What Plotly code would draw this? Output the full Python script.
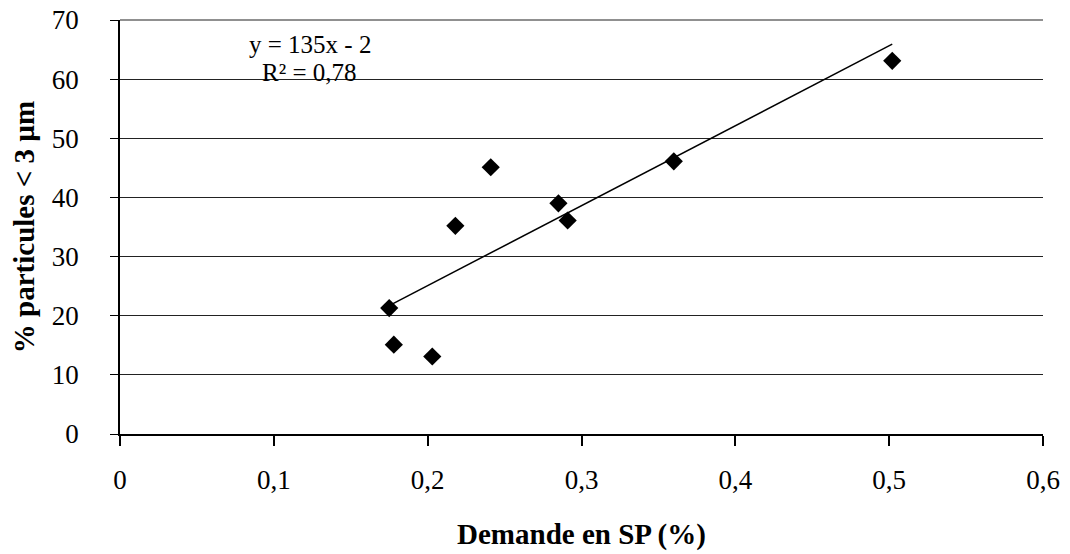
import numpy as np
import plotly.graph_objects as go

# Data
demande_sp = [0.175, 0.178, 0.203, 0.218, 0.241, 0.285, 0.291, 0.360, 0.502]
pct_particules = [21.3, 15.1, 13.1, 35.2, 45.1, 39.0, 36.1, 46.1, 63.1]
x_ticks = [0, 0.1, 0.2, 0.3, 0.4, 0.5, 0.6]
x_tick_labels = ["0", "0,1", "0,2", "0,3", "0,4", "0,5", "0,6"]
y_ticks = [0, 10, 20, 30, 40, 50, 60, 70]

# Linear trend line computed from the data
xa = np.array(demande_sp)
ya = np.array(pct_particules)
slope, intercept = np.polyfit(xa, ya, 1)
xfit = np.array([xa.min(), xa.max()])
yfit = slope * xfit + intercept

FONT = "Liberation Serif, Times New Roman, serif"

fig = go.Figure()
fig.add_trace(go.Scatter(x=xfit, y=yfit, mode="lines",
                         line=dict(color="black", width=1.5), showlegend=False,
                         hoverinfo="skip"))
fig.add_trace(go.Scatter(x=demande_sp, y=pct_particules, mode="markers",
                         marker=dict(symbol="diamond", color="black", size=14),
                         showlegend=False))

fig.add_annotation(x=0.1235, y=65.8, xref="x", yref="y", showarrow=False,
                   text="y = 135x - 2", yanchor="middle",
                   font=dict(family=FONT, size=25, color="black"))
fig.add_annotation(x=0.1235, y=61.2, xref="x", yref="y", showarrow=False,
                   text="R² = 0,78", yanchor="middle",
                   font=dict(family=FONT, size=25, color="black"))

# top gridline (plotly drops the grid line lying on the plot edge)
fig.add_shape(type="line", xref="x domain", yref="y domain",
              x0=0, x1=1, y0=1, y1=1, line=dict(color="#222", width=1.2),
              layer="below")

fig.update_layout(
    width=1062, height=546,
    margin=dict(l=112, r=27, t=12, b=120, autoexpand=False),
    paper_bgcolor="white", plot_bgcolor="white",
    font=dict(family=FONT, color="black"),
)
fig.update_xaxes(
    range=[0, 0.6], tickvals=x_ticks, ticktext=x_tick_labels,
    showgrid=False, zeroline=False, automargin=False,
    showline=True, linecolor="black", linewidth=1.5,
    ticks="outside", ticklen=10, tickcolor="black", tickwidth=1.5,
    ticklabelstandoff=11, ticklabeloverflow="allow",
    tickfont=dict(family=FONT, size=27, color="black"),
    title=dict(text="<b>Demande en SP (%)</b>", standoff=30,
               font=dict(family=FONT, size=29, color="black")),
)
fig.update_yaxes(
    range=[0, 70], tickvals=y_ticks,
    showgrid=True, gridcolor="#222", gridwidth=1.2,
    zeroline=False, automargin=False,
    showline=True, linecolor="black", linewidth=1.5,
    ticks="outside", ticklen=8, tickcolor="black", tickwidth=1.2,
    ticklabelstandoff=26, ticklabeloverflow="allow",
    tickfont=dict(family=FONT, size=27, color="black"),
    title=dict(text="<b>% particules < 3 µm</b>", standoff=10,
               font=dict(family=FONT, size=29, color="black")),
)

fig.write_html("out.html")
